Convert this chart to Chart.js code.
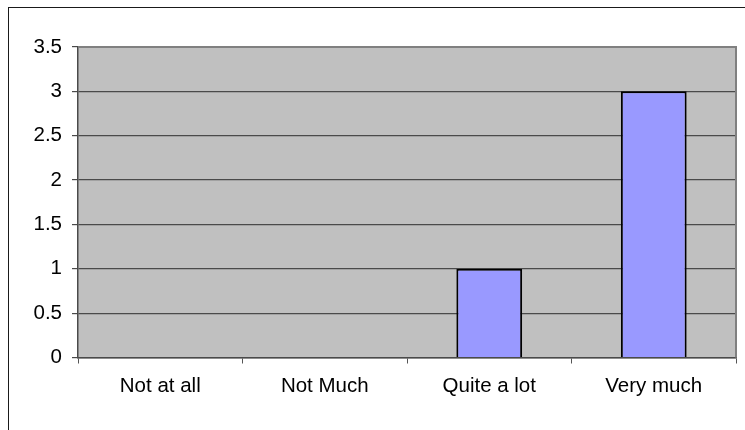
<!DOCTYPE html>
<html>
<head>
<meta charset="utf-8">
<script src="https://cdn.jsdelivr.net/npm/chart.js@4/dist/chart.umd.min.js"></script>
<style>
  html, body { margin: 0; padding: 0; background: #fff; overflow: hidden; }
  #wrap { position: relative; width: 745px; height: 430px; }
  #frame {
    position: absolute; left: 8px; top: 7px; width: 800px; height: 500px;
    border-left: 1.5px solid #1a1a1a; border-top: 1.5px solid #1a1a1a;
    pointer-events: none;
  }
  canvas { position: absolute; left: 0; top: 0; }
</style>
</head>
<body>
<div id="wrap">
  <canvas id="chart" width="745" height="430"></canvas>
  <div id="frame"></div>
</div>
<script>
// ---------------------------------------------------------------------------
// Data
// ---------------------------------------------------------------------------
const CATEGORIES = ['Not at all', 'Not Much', 'Quite a lot', 'Very much'];
const VALUES = [0, 0, 1, 3];
const Y_MIN = 0;
const Y_MAX = 3.5;
const Y_STEP = 0.5;

const FONT = { family: '"Liberation Sans", Arial, sans-serif', size: 20.5 };

// Gray plot background + top/right plot border, like the old Excel look
const plotArea = {
    id: 'plotArea',
    beforeDraw(chart) {
        const { ctx, chartArea: a } = chart;
        ctx.save();
        ctx.fillStyle = '#c0c0c0';
        ctx.fillRect(a.left, a.top, a.right - a.left, a.bottom - a.top);
        ctx.restore();
    },
    afterDatasetsDraw(chart) {
        const { ctx, chartArea: a } = chart;
        ctx.save();
        ctx.strokeStyle = '#808080';
        ctx.lineWidth = 2;
        ctx.beginPath();
        ctx.moveTo(a.left, a.top);
        ctx.lineTo(a.right, a.top);
        ctx.lineTo(a.right, a.bottom);
        ctx.stroke();
        ctx.restore();
    },
};

new Chart(document.getElementById('chart'), {
    type: 'bar',
    data: {
        labels: CATEGORIES,
        datasets: [{
            data: VALUES,
            backgroundColor: '#9999ff',
            borderColor: '#000',
            borderWidth: 2,
            barPercentage: 0.4,
            categoryPercentage: 1,
        }],
    },
    options: {
        responsive: false,
        animation: false,
        devicePixelRatio: 1,
        layout: { padding: { left: 0, top: 47, right: 9, bottom: 0 } },
        plugins: { legend: { display: false }, tooltip: { enabled: false } },
        scales: {
            x: {
                offset: true,
                grid: {
                    offset: true,
                    drawOnChartArea: false,
                    drawTicks: true,
                    tickLength: 6,
                    color: '#555',
                },
                border: { color: '#4a4a4a', width: 1.5 },
                ticks: { color: '#000', font: FONT, padding: 11, maxRotation: 0 },
                afterFit: s => { s.height = 72.5; },
            },
            y: {
                min: Y_MIN,
                max: Y_MAX,
                grid: { color: '#4a4a4a', lineWidth: 1.2, tickLength: 6 },
                border: { color: '#4a4a4a', width: 1.5 },
                ticks: {
                    stepSize: Y_STEP, color: '#000', font: FONT, padding: 10,
                    callback: v => String(v),
                },
                afterFit: s => { s.width = 78; },
            },
        },
    },
    plugins: [plotArea],
});
</script>
</body>
</html>
